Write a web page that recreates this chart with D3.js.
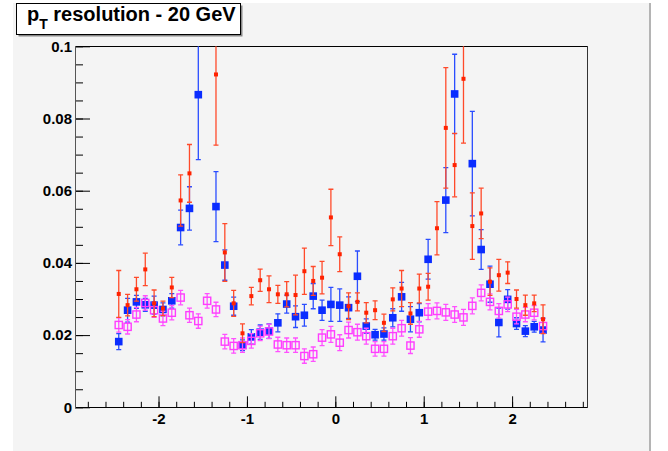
<!DOCTYPE html>
<html>
<head>
<meta charset="UTF-8">
<title>pT resolution - 20 GeV</title>
<style>
  body { margin: 0; background: #ffffff; }
  svg { display: block; }
  .tick text { font-family: "Liberation Sans", Arial, sans-serif; font-weight: bold; font-size: 15px; fill: #000; }
</style>
</head>
<body>
<svg id="chart"></svg>
<script src="https://cdn.jsdelivr.net/npm/d3@7"></script>
<script>
// eta bin centres
var eta = [-2.45, -2.35, -2.25, -2.15, -2.05, -1.95, -1.85, -1.75, -1.65, -1.55, -1.45, -1.35, -1.25, -1.15, -1.05,
  -0.95, -0.85, -0.75, -0.65, -0.55, -0.45, -0.35, -0.25, -0.15, -0.05, 0.05, 0.15, 0.25, 0.35, 0.45,
  0.55, 0.65, 0.75, 0.85, 0.95, 1.05, 1.15, 1.25, 1.35, 1.45, 1.55, 1.65, 1.75, 1.85, 1.95,
  2.05, 2.15, 2.25, 2.35];

// red (small filled markers)
var redVal = [0.0314, 0.0283, 0.0327, 0.0382, 0.0288, 0.0274, 0.0332, 0.0573, 0.0648, null, null, 0.0922, 0.0429, 0.0288, 0.0205,
  0.0308, 0.0352, 0.0327, 0.0313, 0.0313, 0.0311, 0.0377, 0.0350, 0.0359, 0.0526, 0.0424, 0.0280, 0.0292, 0.0262, 0.0269,
  0.0234, 0.0299, 0.0329, 0.0260, 0.0329, 0.0334, 0.0496, 0.0774, 0.0671, 0.0910, 0.0502, 0.0537, 0.0348, 0.0366, 0.0373,
  0.0300, 0.0283, 0.0288, 0.0244];
var redErr = [0.0065, 0.0030, 0.0033, 0.0045, 0.0037, 0.0020, 0.0028, 0.0071, 0.0080, null, null, 0.0196, 0.0080, 0.0036, 0.0026,
  0.0024, 0.0031, 0.0037, 0.0025, 0.0035, 0.0055, 0.0064, 0.0040, 0.0045, 0.0078, 0.0048, 0.0037, 0.0025, 0.0028, 0.0026,
  0.0024, 0.0032, 0.0050, 0.0030, 0.0040, 0.0037, 0.0074, 0.0167, 0.0088, 0.0178, 0.0092, 0.0070, 0.0038, 0.0044, 0.0030,
  0.0025, 0.0028, 0.0023, 0.0040];

// blue (filled squares)
var blueVal = [0.0182, 0.0269, 0.0292, 0.0284, 0.0283, 0.0271, 0.0295, 0.0498, 0.0551, 0.0866, null, 0.0556, 0.0394, 0.0280, 0.0172,
  0.0195, 0.0208, 0.0211, 0.0234, 0.0286, 0.0251, 0.0255, 0.0308, 0.0269, 0.0285, 0.0283, 0.0276, 0.0363, 0.0225, 0.0201,
  0.0203, 0.0248, 0.0306, 0.0244, 0.0262, 0.0410, null, 0.0574, 0.0868, null, 0.0675, 0.0437, 0.0341, 0.0235, 0.0299,
  0.0232, 0.0211, 0.0223, 0.0214];
var blueErr = [0.0022, 0.0033, 0.0018, 0.0018, 0.0025, 0.0018, 0.0020, 0.0048, 0.0060, 0.0180, null, 0.0097, 0.0042, 0.0025, 0.0015,
  0.0020, 0.0020, 0.0020, 0.0025, 0.0025, 0.0030, 0.0030, 0.0035, 0.0028, 0.0047, 0.0045, 0.0030, 0.0070, 0.0020, 0.0015,
  0.0017, 0.0025, 0.0040, 0.0035, 0.0025, 0.0055, null, 0.0090, 0.0110, null, 0.0145, 0.0055, 0.0050, 0.0040, 0.0027,
  0.0016, 0.0015, 0.0015, 0.0033];

// magenta (open squares)
var magVal = [0.0228, 0.0223, 0.0257, 0.0289, 0.0269, 0.0246, 0.0262, 0.0304, 0.0255, 0.0239, 0.0295, 0.0271, 0.0182, 0.0170, 0.0172,
  0.0184, 0.0205, 0.0210, 0.0174, 0.0172, 0.0172, 0.0142, 0.0147, 0.0193, 0.0202, 0.0179, 0.0214, 0.0208, 0.0197, 0.0162,
  0.0162, 0.0197, 0.0219, 0.0171, 0.0216, 0.0265, 0.0267, 0.0263, 0.0257, 0.0249, 0.0281, 0.0317, 0.0292, 0.0267, 0.0285,
  0.0251, 0.0257, 0.0262, 0.0225];
var magErr = [0.0020, 0.0020, 0.0020, 0.0020, 0.0020, 0.0020, 0.0020, 0.0020, 0.0020, 0.0020, 0.0020, 0.0020, 0.0020, 0.0020, 0.0020,
  0.0020, 0.0020, 0.0020, 0.0020, 0.0020, 0.0020, 0.0020, 0.0020, 0.0022, 0.0022, 0.0022, 0.0022, 0.0022, 0.0022, 0.0020,
  0.0020, 0.0022, 0.0022, 0.0022, 0.0022, 0.0022, 0.0022, 0.0022, 0.0022, 0.0022, 0.0022, 0.0022, 0.0022, 0.0020, 0.0020,
  0.0020, 0.0020, 0.0020, 0.0020];

var xTicks = [-2, -1, 0, 1, 2];
var yTicks = [0, 0.02, 0.04, 0.06, 0.08, 0.1];

var W = 668, H = 451;
var svg = d3.select('#chart').attr('width', W).attr('height', H);

// canvas background
svg.append('rect').attr('x', 13).attr('y', 3).attr('width', 637).attr('height', H - 3).attr('fill', '#f4f4f4');
svg.append('rect').attr('x', 649).attr('y', 3).attr('width', 2).attr('height', H - 3).attr('fill', '#b4b4b4');

var x = d3.scaleLinear().domain([-2.945, 2.853]).range([75, 587.5]);
var y = d3.scaleLinear().domain([0, 0.1]).range([407.3, 46.3]);

svg.append('clipPath').attr('id', 'frame')
  .append('rect').attr('x', 75).attr('y', 46.3).attr('width', 512.5).attr('height', 361);

// axes
var xMinor = d3.range(-2.8, 2.81, 0.2).map(function (d) { return +d.toFixed(1); });
var yMinor = d3.range(0, 0.1001, 0.005).map(function (d) { return +d.toFixed(3); });

svg.append('g').attr('transform', 'translate(0,407.3)')
  .call(d3.axisBottom(x).tickValues(xMinor).tickSize(-5.5).tickFormat(''))
  .call(function (g) { g.select('.domain').remove(); });
svg.append('g').attr('transform', 'translate(0,407.3)')
  .call(d3.axisBottom(x).tickValues(xTicks).tickSize(-11).tickPadding(6).tickFormat(function (d) { return String(d); }))
  .call(function (g) { g.select('.domain').remove(); });

svg.append('g').attr('transform', 'translate(75,0)')
  .call(d3.axisLeft(y).tickValues(yMinor).tickSize(-8).tickFormat(''))
  .call(function (g) { g.select('.domain').remove(); });
svg.append('g').attr('transform', 'translate(75,0)')
  .call(d3.axisLeft(y).tickValues(yTicks).tickSize(-15).tickPadding(3)
    .tickFormat(function (d) { return d === 0 ? '0' : String(+d.toFixed(2)); }))
  .call(function (g) { g.select('.domain').remove(); });

svg.selectAll('.tick line').attr('stroke', '#000').attr('stroke-width', 1);

// frame
svg.append('line').attr('x1', 75).attr('x2', 587.5).attr('y1', 46.5).attr('y2', 46.5).attr('stroke', '#000');
svg.append('line').attr('x1', 75).attr('x2', 587.5).attr('y1', 407.5).attr('y2', 407.5).attr('stroke', '#000');
svg.append('line').attr('x1', 75.5).attr('x2', 75.5).attr('y1', 46).attr('y2', 408).attr('stroke', '#555');
svg.append('line').attr('x1', 587.5).attr('x2', 587.5).attr('y1', 46).attr('y2', 408).attr('stroke', '#333');

function series(vals, errs) {
  return eta.map(function (e, i) { return { x: e, v: vals[i], err: errs[i] }; })
    .filter(function (d) { return d.v !== null; });
}

var plot = svg.append('g').attr('clip-path', 'url(#frame)');

function drawErrors(data, color, width) {
  var g = plot.append('g').attr('stroke', color).attr('stroke-width', width);
  g.selectAll('line.bar').data(data).enter().append('line')
    .attr('x1', function (d) { return x(d.x); }).attr('x2', function (d) { return x(d.x); })
    .attr('y1', function (d) { return y(d.v + d.err); }).attr('y2', function (d) { return y(d.v - d.err); });
  g.selectAll('line.top').data(data).enter().append('line')
    .attr('x1', function (d) { return x(d.x) - 2.5; }).attr('x2', function (d) { return x(d.x) + 2.5; })
    .attr('y1', function (d) { return y(d.v + d.err); }).attr('y2', function (d) { return y(d.v + d.err); });
  g.selectAll('line.bot').data(data).enter().append('line')
    .attr('x1', function (d) { return x(d.x) - 2.5; }).attr('x2', function (d) { return x(d.x) + 2.5; })
    .attr('y1', function (d) { return y(d.v - d.err); }).attr('y2', function (d) { return y(d.v - d.err); });
}

var blue = series(blueVal, blueErr);
var mag = series(magVal, magErr);
var red = series(redVal, redErr);

drawErrors(blue, '#2a4dff', 1.3);
plot.selectAll('rect.blue').data(blue).enter().append('rect')
  .attr('x', function (d) { return x(d.x) - 3.8; }).attr('y', function (d) { return y(d.v) - 3.8; })
  .attr('width', 7.6).attr('height', 7.6).attr('fill', '#0a2cff');

drawErrors(mag, '#ff50ff', 1.3);
plot.selectAll('rect.mag').data(mag).enter().append('rect')
  .attr('x', function (d) { return x(d.x) - 3.6; }).attr('y', function (d) { return y(d.v) - 3.6; })
  .attr('width', 7.2).attr('height', 7.2).attr('fill', 'none').attr('stroke', '#ff3cff').attr('stroke-width', 1.4);

drawErrors(red, '#ff4a2a', 1.3);
plot.selectAll('rect.red').data(red).enter().append('rect')
  .attr('x', function (d) { return x(d.x) - 2; }).attr('y', function (d) { return y(d.v) - 2; })
  .attr('width', 4).attr('height', 4).attr('fill', '#ff2200');

// title box
svg.append('rect').attr('x', 18.5).attr('y', 5.5).attr('width', 224).attr('height', 31).attr('fill', '#888');
svg.append('rect').attr('x', 16.5).attr('y', 3.5).attr('width', 224).attr('height', 31)
  .attr('fill', '#fff').attr('stroke', '#000').attr('stroke-width', 1);
var title = svg.append('text').attr('x', 27).attr('y', 21)
  .attr('font-family', '"Liberation Sans", Arial, sans-serif').attr('font-weight', 'bold').attr('font-size', '20px');
title.append('tspan').text('p');
title.append('tspan').attr('font-size', '14px').attr('dy', 8).text('T');
title.append('tspan').attr('dy', -8).text(' resolution - 20 GeV');
</script>
</body>
</html>
